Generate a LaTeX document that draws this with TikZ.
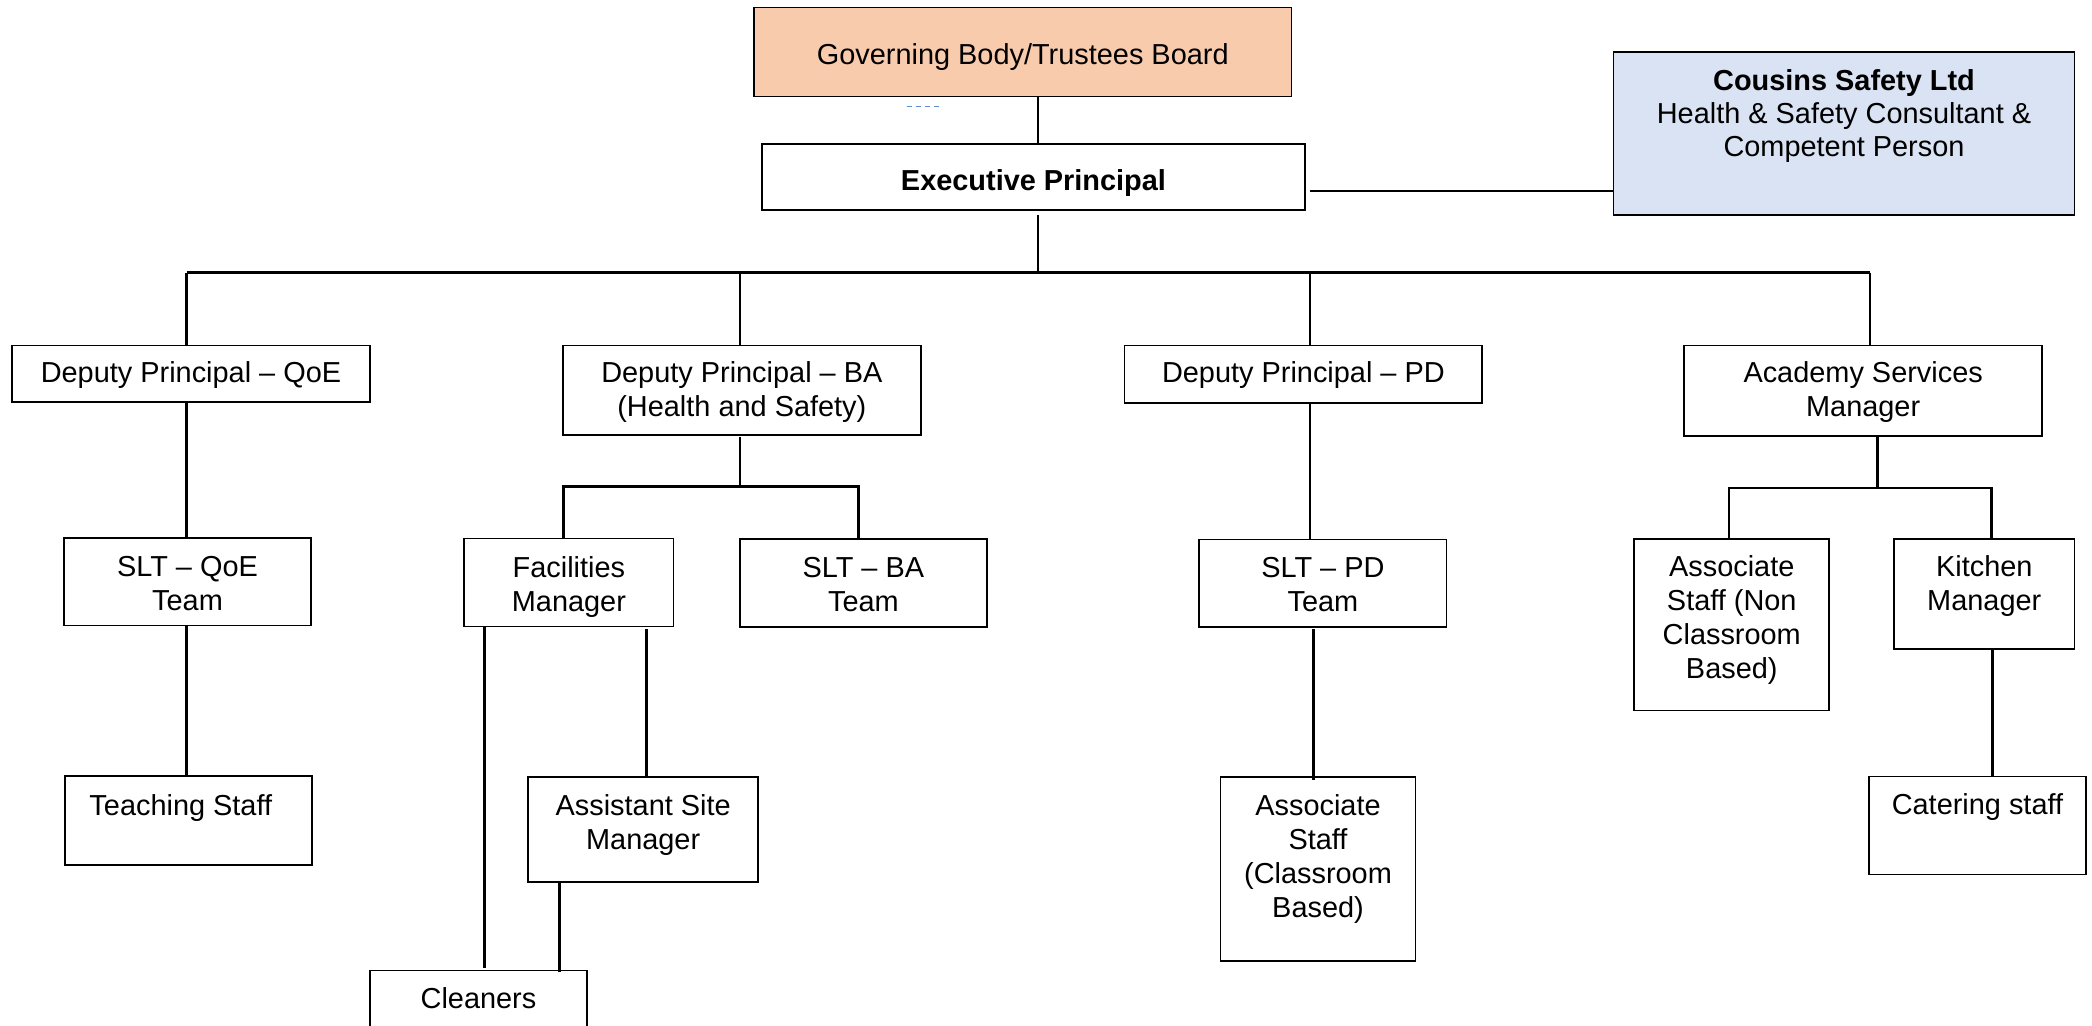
\documentclass[tikz,border=0pt]{standalone}
\usepackage{fontspec}
\setmainfont{Liberation Sans}
\usetikzlibrary{calc}
\definecolor{peach}{RGB}{248,203,173}
\definecolor{paleblue}{RGB}{218,227,243}
\definecolor{dashblue}{RGB}{91,141,213}
\newcommand\lns[1]{\begin{tabular}[t]{@{}c@{}}#1\end{tabular}}
% \mkbox[opts]{name}{x1}{y1}{x2}{y2}  (pixels, y downwards)
\newcommand\mkbox[6][]{\node[box,#1,minimum width={(#5-#3)*0.5pt},minimum height={(#6-#4)*0.5pt}] (#2) at (#3,#4) {};}
% \tx[opts]{name}{offset from top to first baseline, px}{text}
\newcommand\tx[4][]{\node[txt,#1] (#2-t) at ([yshift=-#3*0.5pt]#2.north) {\lns{#4}};}
\tikzset{
  box/.style={draw=black, line width=0.85pt, fill=white, inner sep=0pt, outer sep=0pt, anchor=north west},
  txt/.style={anchor=base, inner sep=0pt, font=\fontsize{14.45pt}{17pt}\selectfont},
  conn/.style={draw=black, line width=1.35pt},
}
\begin{document}
\begin{tikzpicture}[x=0.5pt,y=-0.5pt]
\path[use as bounding box] (0,0) rectangle (2092,1025);
\clip (0,0) rectangle (2092,1025);
\fill[white] (0,0) rectangle (2092,1025);

% ---- boxes ----
\mkbox[fill=peach]{gov}{754}{7.5}{1291.5}{96.5}
\mkbox{exec}{762}{144.3}{1305}{210}
\mkbox[fill=paleblue]{cous}{1613.5}{52}{2074.5}{215}
\mkbox{qoe}{12}{345.5}{370}{402}
\mkbox{ba}{563}{345.5}{920.7}{435}
\mkbox{pd}{1124.5}{345.5}{1482.3}{403}
\mkbox{asm}{1684}{345.5}{2042.3}{436}
\mkbox{sltq}{64}{538}{311}{625.5}
\mkbox{fac}{464.3}{538.5}{673.5}{626.5}
\mkbox{sltb}{740}{539}{986.7}{626.7}
\mkbox{sltp}{1199.3}{539.4}{1446.5}{627.3}
\mkbox{asn}{1634.2}{539}{1829.3}{710.5}
\mkbox{kit}{1894}{539}{2074.5}{648.7}
\mkbox{teach}{65.3}{776.3}{312.3}{864.8}
\mkbox{asst}{528.3}{776.7}{758}{882.2}
\mkbox{assc}{1220.4}{777}{1415.6}{960.8}
\mkbox{cat}{1869.2}{776.4}{2085.7}{874.4}
\mkbox{clean}{370.2}{970.5}{586.8}{1040}

% ---- texts ----
\tx{gov}{56.7}{Governing Body/Trustees Board}
\tx{exec}{46.3}{\textbf{Executive Principal}}
\tx[font=\fontsize{14.45pt}{16.5pt}\selectfont]{cous}{38}{\textbf{Cousins Safety Ltd}\\Health \& Safety Consultant \&\\Competent Person}
\tx{qoe}{37}{Deputy Principal – QoE}
\tx{ba}{37}{Deputy Principal – BA\\(Health and Safety)}
\tx{pd}{37}{Deputy Principal – PD}
\tx{asm}{37}{Academy Services\\Manager}
\tx{sltq}{38.5}{SLT – QoE\\Team}
\tx{fac}{38.5}{Facilities\\Manager}
\tx{sltb}{38.3}{SLT – BA\\Team}
\tx{sltp}{38.1}{SLT – PD\\Team}
\tx{asn}{37.4}{Associate\\Staff (Non\\Classroom\\Based)}
\tx{kit}{37.4}{Kitchen\\Manager}
\tx[xshift=-4pt]{teach}{39.2}{Teaching Staff}
\tx{asst}{38.6}{Assistant Site\\Manager}
\tx{assc}{38}{Associate\\Staff\\(Classroom\\Based)}
\tx{cat}{37.6}{Catering staff}
\tx{clean}{37.5}{Cleaners}

% ---- junction coordinates ----
\coordinate (busQ) at (186.7,272.7);
\coordinate (busB) at (740,272.7);
\coordinate (busE) at (1038,272.7);
\coordinate (busP) at (1310,272.7);
\coordinate (busA) at (1870,272.7);
\coordinate (cj) at (1310,191);
\coordinate (subB) at (740,486.6);
\coordinate (subBL) at (563.3,486.6);
\coordinate (subBR) at (858.3,486.6);
\coordinate (subA) at (1877.3,488);
\coordinate (subAL) at (1729,488);
\coordinate (subAR) at (1991.7,488);
\coordinate (fcl) at (484.3,968);
\coordinate (fca) at (646.7,629);
\coordinate (acl) at (559.3,972);
\coordinate (sp) at (1313.3,630);
\coordinate (kc) at (1992.3,650);

% ---- connectors ----
\draw[conn] (gov.south -| busE) -- (exec.north -| busE);
\draw[conn] ($(exec.south -| busE)+(0,5)$) -- (busE);
\draw[conn] (cj) -- (cj -| cous.west);
\draw[conn] (busQ) -- (busA);
\draw[conn] (busQ) -- (qoe.north -| busQ);
\draw[conn] (busB) -- (ba.north -| busB);
\draw[conn] (busP) -- (pd.north -| busP);
\draw[conn] (busA) -- (asm.north -| busA);
\draw[conn] (qoe.south -| busQ) -- (sltq.north -| busQ);
\draw[conn] (sltq.south -| busQ) -- (teach.north -| busQ);
\draw[conn] ($(ba.south -| subB)+(0,1.7)$) -- (subB);
\draw[conn] (fac.north -| subBL) -- (subBL) -- (subBR) -- (sltb.north -| subBR);
\draw[conn] (fac.south -| fcl) -- ($(clean.north -| fcl)+(0,-2.5)$);
\draw[conn] ($(fac.south -| fca)+(0,2.5)$) -- (asst.north -| fca);
\draw[conn] (asst.south -| acl) -- ($(clean.north -| acl)+(0,1.5)$);
\draw[conn] (pd.south -| busP) -- (sltp.north -| busP);
\draw[conn] ($(sltp.south -| sp)+(0,2)$) -- ($(assc.north -| sp)+(0,2.8)$);
\draw[conn] (asm.south -| subA) -- (subA);
\draw[conn] (asn.north -| subAL) -- (subAL) -- (subAR) -- (kit.north -| subAR);
\draw[conn] (kit.south -| kc) -- (cat.north -| kc);

% stray blue dashes under the top box
\draw[dashblue, line width=0.6pt, dash pattern=on 2.6pt off 1.9pt] (906.7,106.7) -- (939.3,106.7);
\end{tikzpicture}
\end{document}
